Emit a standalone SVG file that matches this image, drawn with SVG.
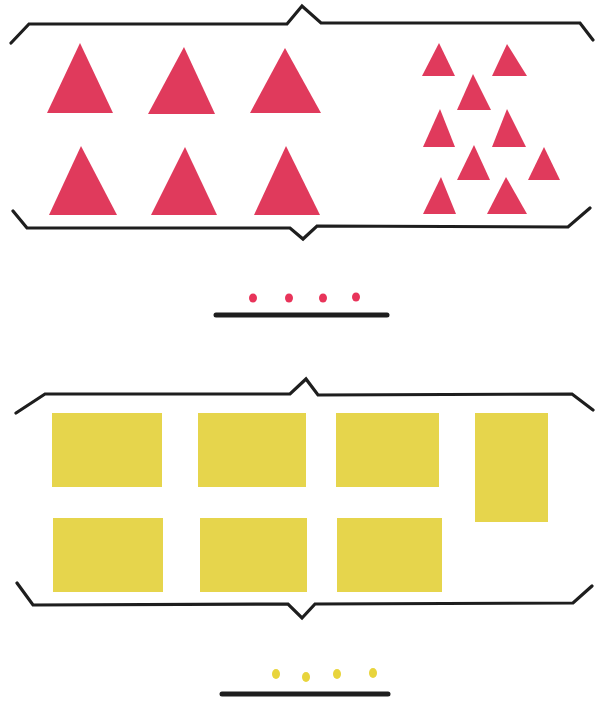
<svg xmlns="http://www.w3.org/2000/svg" width="596" height="702" viewBox="0 0 596 702">
<style>
.br{fill:none;stroke:#1e1e1e;stroke-width:3.2;stroke-linejoin:miter;stroke-linecap:round}
.tri{fill:#e03a5c}
.rect{fill:#e6d54c}
.rd{fill:#e8345a}
.yd{fill:#e8d43c}
.base{stroke:#1e1e1e;stroke-width:5;stroke-linecap:round}
</style>
<rect width="596" height="702" fill="#ffffff"/>
<g id="brackets">
<path class="br" d="M11,43 L29,24 L287,24 L302,6 L321,23 L580,23 L593,40"/>
<path class="br" d="M13,211 L27,228 L290,228 L303,239 L317,226 L568,227 L590,208"/>
<path class="br" d="M16,413 L45,394 L290,394 L306,379 L318,395 L572,394 L593,410"/>
<path class="br" d="M17,583 L33,605 L288,604 L302,618 L315,604 L573,603 L592,586"/>
</g>
<g id="big-triangles">
<polygon class="tri" points="80,43 113,113 47,113"/>
<polygon class="tri" points="184,47 215,114 148,114"/>
<polygon class="tri" points="285,48 321,113 250,113"/>
<polygon class="tri" points="81,146 117,215 49,215"/>
<polygon class="tri" points="185,147 217,215 151,215"/>
<polygon class="tri" points="286,146 320,215 254,215"/>
</g>
<g id="small-triangles">
<polygon class="tri" points="439,43 455,76 422,76"/>
<polygon class="tri" points="507,44 527,76 492,76"/>
<polygon class="tri" points="473,74 491,110 457,110"/>
<polygon class="tri" points="440,109 455,147 423,147"/>
<polygon class="tri" points="507,109 526,147 492,147"/>
<polygon class="tri" points="474,145 490,180 457,180"/>
<polygon class="tri" points="544,147 560,180 528,180"/>
<polygon class="tri" points="441,177 456,214 423,214"/>
<polygon class="tri" points="506,177 527,214 487,214"/>
</g>
<g id="count-top">
<ellipse class="rd" cx="253" cy="298" rx="4" ry="4.5"/>
<ellipse class="rd" cx="289" cy="298" rx="4" ry="4.5"/>
<ellipse class="rd" cx="323" cy="298" rx="4" ry="4.5"/>
<ellipse class="rd" cx="356" cy="297" rx="4" ry="4.5"/>
<line class="base" x1="216" y1="315" x2="387" y2="315"/>
</g>
<g id="rectangles">
<rect class="rect" x="52" y="413" width="110" height="74"/>
<rect class="rect" x="198" y="413" width="108" height="74"/>
<rect class="rect" x="336" y="413" width="103" height="74"/>
<rect class="rect" x="475" y="413" width="73" height="109"/>
<rect class="rect" x="53" y="518" width="110" height="74"/>
<rect class="rect" x="200" y="518" width="107" height="74"/>
<rect class="rect" x="337" y="518" width="105" height="74"/>
</g>
<g id="count-bottom">
<ellipse class="yd" cx="276" cy="674" rx="4" ry="5"/>
<ellipse class="yd" cx="306" cy="677" rx="4" ry="5"/>
<ellipse class="yd" cx="337" cy="674" rx="4" ry="5"/>
<ellipse class="yd" cx="373" cy="673" rx="4" ry="5"/>
<line class="base" x1="222" y1="694" x2="388" y2="694"/>
</g>
</svg>
